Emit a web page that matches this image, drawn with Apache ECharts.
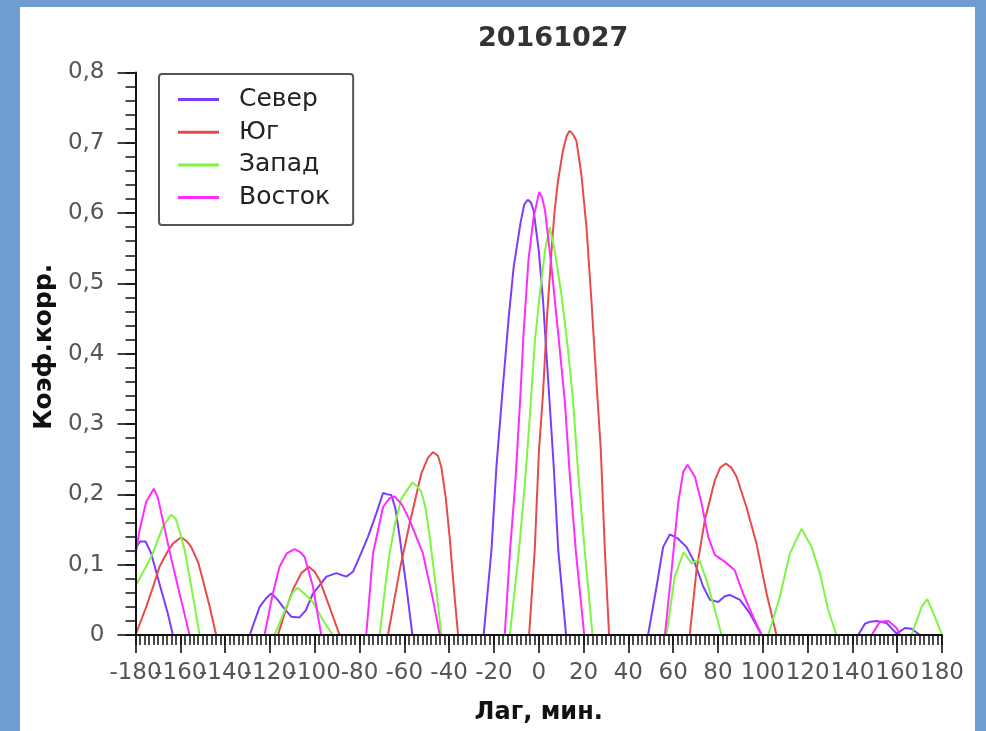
<!DOCTYPE html>
<html>
<head>
<meta charset="utf-8">
<script src="https://cdn.jsdelivr.net/npm/echarts@6/dist/echarts.min.js"></script>
<style>
  html, body { margin: 0; padding: 0; }
  body { width: 986px; height: 731px; background: #6f9dd1; position: relative; overflow: hidden; }
  #panel { position: absolute; left: 20px; top: 7px; width: 955px; height: 724px; background: #ffffff; }
  #chart { position: absolute; left: 0; top: 0; width: 986px; height: 731px; }
</style>
</head>
<body>
<div id="panel"></div>
<div id="chart"></div>
<script>
const titleText = '20161027';
const xAxisName = 'Лаг, мин.';
const yAxisName = 'Коэф.корр.';
const seriesNames = ['Север', 'Юг', 'Запад', 'Восток'];
const seriesColors = ['#7b3cff', '#e64b4b', '#7df542', '#ff2cff'];
const xTicks = { min: -180, max: 180, step: 20, minorStep: 2 };
const yTicks = { min: 0, max: 0.8, step: 0.1, minorStep: 0.02 };
const G = '-';

// Север
const sever = [
  [-180,0.123],[-178,0.133],[-175.5,0.133],[-173,0.116],[-169.3,0.073],[-165.6,0.031],[-163.3,0],
  [-146,G],
  [-129,0],[-124.6,0.04],[-121.5,0.053],[-119.4,0.059],[-116.5,0.05],[-114.2,0.04],[-110.5,0.026],[-106.8,0.025],
  [-104,0.035],[-100.8,0.059],[-97.5,0.072],[-94.8,0.083],[-90.4,0.088],[-85.9,0.083],[-82.9,0.09],[-80,0.111],
  [-76.2,0.14],[-72.5,0.173],[-69.5,0.202],[-67.5,0.2],[-65.8,0.199],[-64,0.18],[-62.1,0.14],[-59.1,0.069],[-56.4,0],
  [-40,G],
  [-24.6,0],[-21.1,0.121],[-18.9,0.239],[-16.4,0.338],[-13.4,0.452],[-11.2,0.523],[-8.2,0.585],[-6.5,0.612],
  [-4.9,0.619],[-3.5,0.615],[-2.3,0.604],[0,0.547],[1.9,0.476],[4.7,0.338],[6.7,0.239],[8.7,0.121],[12.2,0],
  [30,G],
  [48.8,0],[52.6,0.069],[55.5,0.125],[58.5,0.143],[62.2,0.137],[66,0.125],[69.7,0.102],[73.4,0.069],[76.4,0.05],
  [80.1,0.047],[83,0.055],[85.3,0.057],[89.8,0.05],[94.2,0.031],[99.5,0],
  [120,G],
  [142.6,0],[145.6,0.016],[148,0.019],[150.8,0.02],[155.3,0.017],[159.7,0.002],[163.5,0.01],[166.4,0.009],[170.1,0]
];

// Юг
const yug = [
  [-180,0],[-175.2,0.04],[-172,0.07],[-169.3,0.097],[-166,0.117],[-163.3,0.13],[-159.6,0.139],[-157,0.133],
  [-155.1,0.125],[-152,0.103],[-149.9,0.078],[-147,0.042],[-144,0],
  [-130,G],
  [-116.4,0],[-113,0.035],[-109.8,0.064],[-106,0.088],[-102.6,0.097],[-100,0.09],[-97.8,0.078],[-93.4,0.04],[-88.9,0],
  [-78,G],
  [-67.3,0],[-62.1,0.092],[-57.6,0.159],[-52.4,0.23],[-49.5,0.252],[-47.2,0.26],[-45,0.255],[-43.5,0.239],
  [-41.5,0.195],[-39.8,0.14],[-38,0.07],[-36,0],
  [-20,G],
  [-4.3,0],[-1.8,0.121],[0.1,0.263],[1.9,0.343],[3.7,0.452],[5.7,0.547],[7.1,0.604],[8.6,0.646],[10.8,0.689],
  [12.5,0.71],[13.8,0.717],[15.3,0.712],[16.8,0.703],[19,0.656],[21.3,0.58],[23.5,0.476],[25.8,0.358],
  [27.7,0.263],[29.5,0.121],[31.4,0],
  [50,G],
  [67.4,0],[70.4,0.092],[74.1,0.163],[78.6,0.22],[81,0.238],[83.5,0.244],[86,0.238],[88.3,0.225],[92.7,0.182],
  [97.2,0.13],[101.7,0.059],[106.1,0]
];

// Запад
const zapad = [
  [-180,0.07],[-176,0.093],[-172.3,0.116],[-167.8,0.154],[-164.1,0.171],[-162,0.165],[-160.4,0.149],[-158,0.12],
  [-155.9,0.083],[-153.5,0.04],[-151.4,0],
  [-135,G],
  [-117.9,0],[-112.7,0.04],[-109.5,0.062],[-107.5,0.067],[-104,0.057],[-100.8,0.047],[-96.3,0.021],[-91.9,0],
  [-80,G],
  [-71,0],[-68.5,0.07],[-66.6,0.116],[-64,0.16],[-61.3,0.194],[-59,0.205],[-56.4,0.217],[-54.5,0.212],[-52.4,0.204],
  [-50.5,0.18],[-48.7,0.14],[-45,0.045],[-43.5,0],
  [-28,G],
  [-12.9,0],[-8.8,0.121],[-6.2,0.215],[-4,0.31],[-1.7,0.419],[0.5,0.485],[2.8,0.547],[4.9,0.58],[7.1,0.547],
  [10.1,0.485],[13.1,0.405],[15.3,0.334],[17.6,0.23],[20.5,0.121],[24,0],
  [40,G],
  [57,0],[60.7,0.083],[64.7,0.118],[68.2,0.102],[71.6,0.107],[74.9,0.078],[78.6,0.036],[81.6,0],
  [92,G],
  [102.4,0],[107.6,0.054],[112.1,0.116],[117.3,0.151],[121.8,0.125],[125.5,0.088],[129.2,0.036],[132.9,0],
  [150,G],
  [166.4,0],[170.9,0.04],[173.4,0.051],[176.8,0.026],[180,0]
];

// Восток
const vostok = [
  [-180,0.114],[-178.2,0.149],[-175.2,0.19],[-171.8,0.208],[-170,0.195],[-167.8,0.163],[-164.5,0.115],
  [-161.1,0.069],[-158.5,0.035],[-155.9,0],
  [-140,G],
  [-122.4,0],[-118.7,0.059],[-115.7,0.097],[-112.5,0.116],[-109,0.122],[-106.5,0.118],[-104.5,0.111],
  [-100.8,0.069],[-97.1,0],
  [-85,G],
  [-77,0],[-74,0.116],[-69.5,0.182],[-66.5,0.195],[-64.3,0.197],[-61,0.185],[-57.6,0.163],[-51.7,0.116],
  [-47.2,0.05],[-44.2,0],
  [-30,G],
  [-15.2,0],[-12.8,0.121],[-10.5,0.215],[-8.3,0.334],[-6.8,0.428],[-4.6,0.533],[-2.3,0.594],[0.2,0.63],
  [1.5,0.622],[2.8,0.604],[5.7,0.523],[8.7,0.428],[11.6,0.334],[13.8,0.23],[16.5,0.121],[20.3,0],
  [40,G],
  [56.3,0],[59.3,0.092],[62.2,0.187],[64.5,0.232],[66.4,0.242],[69.7,0.225],[72.7,0.187],[75.6,0.14],
  [78.6,0.114],[83.1,0.104],[87.5,0.092],[91.2,0.059],[95.7,0.026],[99.5,0],
  [125,G],
  [148.6,0],[152.3,0.019],[156.1,0.02],[159.7,0.01],[161.3,0]
];

const seriesData = [sever, yug, zapad, vostok];
const FONT = 'DejaVu Sans';
const AXIS_COLOR = '#111111';
const LABEL_STYLE = { fontFamily: FONT, fontSize: 23, color: '#555555' };

const chart = echarts.init(document.getElementById('chart'), null, { renderer: 'canvas' });

function xBase(extra) {
  return Object.assign({
    type: 'value',
    position: 'bottom',
    min: xTicks.min,
    max: xTicks.max,
    splitLine: { show: false },
    minorTick: { show: false },
    axisLine: { show: false, onZero: false }
  }, extra);
}
function yBase(extra) {
  return Object.assign({
    type: 'value',
    position: 'left',
    min: yTicks.min,
    max: yTicks.max,
    splitLine: { show: false },
    minorTick: { show: false },
    axisLine: { show: false, onZero: false }
  }, extra);
}

chart.setOption({
  backgroundColor: 'transparent',
  animation: false,
  textStyle: { fontFamily: FONT },
  title: {
    text: titleText,
    left: 473,
    top: 20,
    textStyle: { fontFamily: FONT, fontSize: 27, fontWeight: 'bold', color: '#333333' }
  },
  legend: {
    orient: 'vertical',
    left: 159,
    top: 74,
    padding: [13, 23, 15, 19],
    backgroundColor: '#ffffff',
    borderColor: '#555555',
    borderWidth: 2,
    borderRadius: 3,
    icon: 'rect',
    itemWidth: 41,
    itemHeight: 3,
    itemGap: 7.7,
    data: seriesNames,
    textStyle: { fontFamily: FONT, fontSize: 25, color: '#222222', lineHeight: 25, padding: [0, 0, 0, 15] }
  },
  grid: {
    left: 135.5,
    right: 44,
    top: 72.5,
    bottom: 96,
    containLabel: false,
    outerBoundsMode: 'none'
  },
  xAxis: [
    xBase({
      interval: xTicks.step,
      name: xAxisName,
      nameLocation: 'middle',
      nameGap: 66,
      nameTextStyle: { fontFamily: FONT, fontSize: 24, fontWeight: 'bold', color: AXIS_COLOR },
      axisLine: { show: true, onZero: false, lineStyle: { color: AXIS_COLOR, width: 2 } },
      axisTick: { show: true, length: 18, inside: false, lineStyle: { color: AXIS_COLOR, width: 1.6 } },
      axisLabel: Object.assign({ show: true, margin: 27, showMinLabel: false, showMaxLabel: false }, LABEL_STYLE),
      z: 3
    }),
    xBase({
      interval: xTicks.max - xTicks.min,
      axisTick: { show: true, length: 18, inside: false, lineStyle: { color: AXIS_COLOR, width: 1.6 } },
      axisLabel: Object.assign({ show: true, margin: 27, showMinLabel: true, showMaxLabel: true }, LABEL_STYLE),
      z: 3
    }),
    xBase({
      interval: xTicks.minorStep,
      axisTick: { show: true, length: 10, inside: false, lineStyle: { color: AXIS_COLOR, width: 1.5 } },
      axisLabel: { show: false },
      z: 2
    })
  ],
  yAxis: [
    yBase({
      interval: yTicks.step,
      name: yAxisName,
      nameLocation: 'middle',
      nameGap: 73,
      nameTextStyle: { fontFamily: FONT, fontSize: 25, fontWeight: 'bold', color: AXIS_COLOR, padding: [0, 0, 0, 14] },
      axisLine: { show: true, onZero: false, lineStyle: { color: AXIS_COLOR, width: 2 } },
      axisTick: { show: true, length: 18, inside: false, lineStyle: { color: AXIS_COLOR, width: 1.6 } },
      axisLabel: Object.assign({
        show: true, margin: 31, showMinLabel: true, showMaxLabel: true,
        formatter: function (v) { return v === 0 ? '0' : v.toFixed(1).replace('.', ','); }
      }, LABEL_STYLE),
      z: 3
    }),
    yBase({
      interval: yTicks.minorStep,
      axisTick: { show: true, length: 10, inside: false, lineStyle: { color: AXIS_COLOR, width: 1.5 } },
      axisLabel: { show: false },
      z: 2
    })
  ],
  series: seriesNames.map(function (name, i) {
    return {
      name: name,
      type: 'line',
      xAxisIndex: 0,
      yAxisIndex: 0,
      data: seriesData[i],
      symbol: 'none',
      showSymbol: false,
      connectNulls: false,
      clip: true,
      color: seriesColors[i],
      lineStyle: { color: seriesColors[i], width: 2 },
      itemStyle: { color: seriesColors[i] },
      z: 2
    };
  })
});
</script>
</body>
</html>
